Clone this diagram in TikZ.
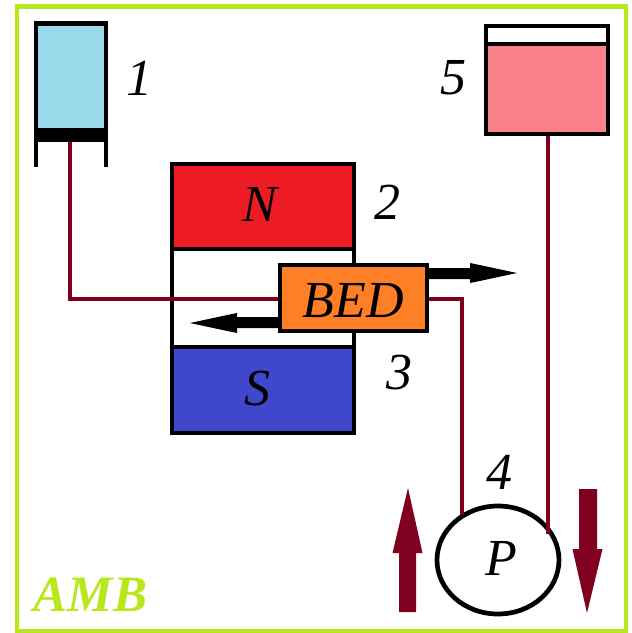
\documentclass[tikz,border=0pt]{standalone}
\usetikzlibrary{shapes.geometric}
\usepackage{fontspec}
\setmainfont{Liberation Serif}
\definecolor{framegreen}{RGB}{184,232,28}
\definecolor{wirered}{RGB}{128,0,32}
\definecolor{tankblue}{RGB}{153,217,234}
\definecolor{tankpink}{RGB}{250,128,137}
\definecolor{magred}{RGB}{237,28,36}
\definecolor{magblue}{RGB}{63,72,204}
\definecolor{bedorange}{RGB}{255,127,39}
\tikzset{
  x=1pt,y=-1pt,
  box/.style={draw=black,line width=4.7pt,inner sep=0pt,anchor=center},
  lbl/.style={font=\itshape\fontsize{52}{52}\selectfont,inner sep=0pt,text=black},
  wire/.style={draw=wirered,line width=4.5pt},
  thick arrow/.style={fill=black,draw=none},
  flow/.style={fill=wirered,draw=none}
}
\begin{document}
\begin{tikzpicture}
\useasboundingbox (0,0) rectangle (632,633);
\draw[framegreen,line width=4.5pt] (17,6.5) rectangle (626,631);
% wire corners
\coordinate (w1) at (70,299);
\coordinate (w2) at (462,299);
% magnet
\node[box,fill=magred,minimum width=182pt,minimum height=85pt] (north) at (263,206.5) {};
\node[box,fill=white,minimum width=182pt,minimum height=98pt] (gap) at (263,298) {};
\node[box,fill=magblue,minimum width=182pt,minimum height=86pt] (south) at (263,390) {};
\node[lbl] at (259.5,204) {N};
\node[lbl] at (257,389) {S};
% tank 1
\node[box,fill=tankblue,minimum width=70pt,minimum height=113pt] (tank1) at (71,80) {};
\fill (34,128) rectangle (108,142);
\draw[line width=4.7pt] (36,140) -- (36,167) (106,140) -- (106,167);
\coordinate (piston) at (70,142);
\node[lbl] (n1) at (139,78) {1};
% tank 5
\node[box,fill=tankpink,minimum width=122pt,minimum height=108pt] (tank5) at (547,80) {};
\fill[white] (488,28) rectangle (606,43);
\draw[line width=4.5pt] (486,44.2) -- (608,44.2);
\node[lbl] (n5) at (453,78) {5};
% pump
\node[draw=black,line width=4.7pt,fill=white,ellipse,minimum width=122pt,minimum height=108pt,inner sep=0pt] (pump) at (498,560) {};
\node[lbl] at (501,558) {P};
\coordinate (p1) at (462,515);
\coordinate (p2) at (548,534);
\coordinate (t5) at (548,136);
% BED
\node[box,fill=bedorange,minimum width=147pt,minimum height=66pt] (bed) at (353.5,298) {};
\node[lbl] at (353,301) {BED};
% connectors
\draw[wire] (piston) -- (w1) -- (bed.west |- w1);
\draw[wire] (bed.east |- w2) -- (w2) -- (p1);
\draw[wire] (t5) -- (p2);
% black arrows
\fill[thick arrow] (429,268) -- (470,268) -- (470,263) -- (482,265.5) -- (517,273) -- (482,280.5) -- (470,283) -- (470,279) -- (429,279) -- cycle;
\fill[thick arrow] (278,317) -- (237,317) -- (237,313) -- (225,315.5) -- (190,323) -- (225,330.5) -- (237,333) -- (237,328) -- (278,328) -- cycle;
% flow arrows
\fill[flow] (399,612) -- (399,553) -- (392.5,553) -- (408,488) -- (422.5,553) -- (416,553) -- (416,612) -- cycle;
\fill[flow] (579,489) -- (597,489) -- (597,549) -- (602.5,549) -- (587,613) -- (572.5,549) -- (579,549) -- cycle;
% labels
\node[lbl] (n2) at (387,202) {2};
\node[lbl] (n3) at (399,373) {3};
\node[lbl] (n4) at (499,472) {4};
\node[font=\itshape\bfseries\fontsize{51}{51}\selectfont,text=framegreen,inner sep=0pt] (amb) at (90.5,595) {AMB};
\end{tikzpicture}
\end{document}
